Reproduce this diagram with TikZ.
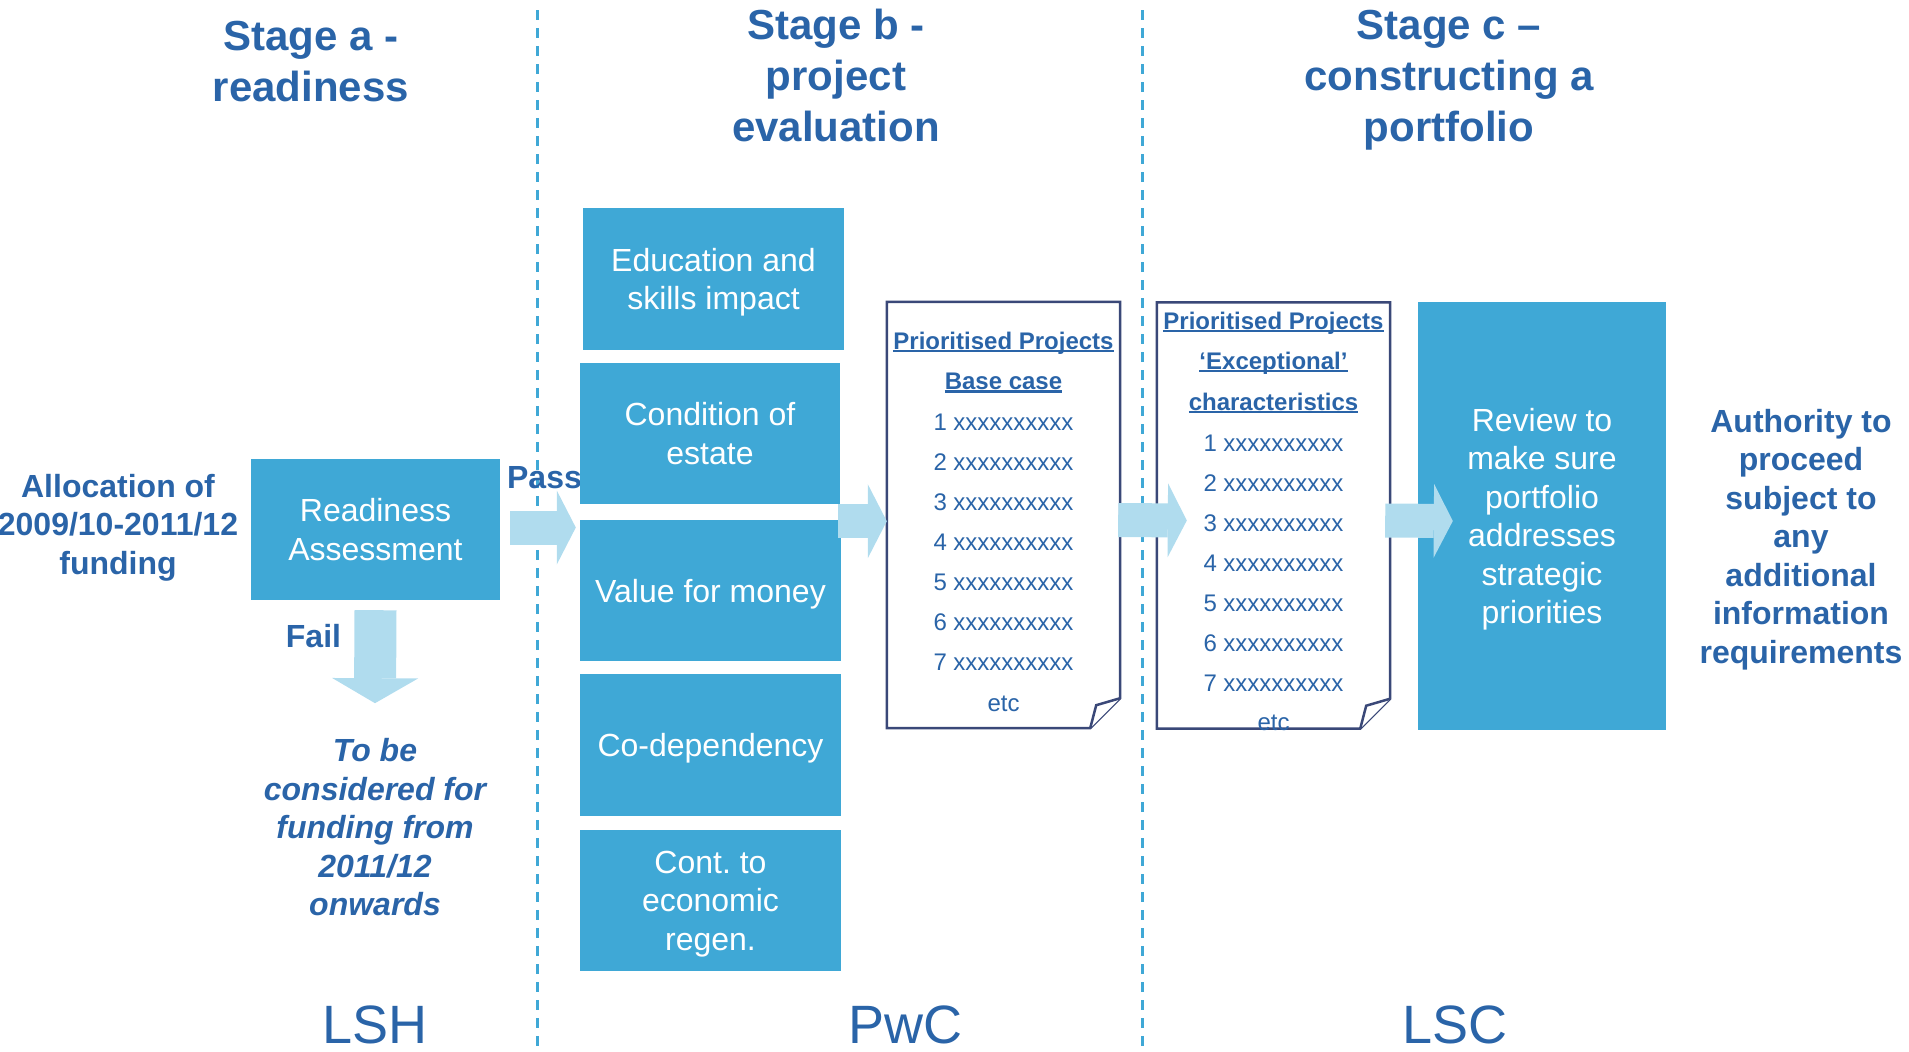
\documentclass[tikz,border=0pt]{standalone}
\usepackage{fontspec}
\setmainfont{Liberation Sans}
\usetikzlibrary{arrows.meta}
\definecolor{boxblue}{RGB}{63,168,214}
\definecolor{arrowblue}{RGB}{176,220,238}
\definecolor{textblue}{RGB}{42,100,168}
\definecolor{pageline}{RGB}{58,72,120}
\newcommand{\docul}[1]{\setbox0=\hbox{#1}\rlap{\rule[-3pt]{\wd0}{2.5pt}}\box0}
\tikzset {
    stage/.style = {text = textblue, align = center, inner sep = 0pt,
        text depth = 0pt, font = \fontsize{42}{51}\selectfont\bfseries},
    side text/.style = {text = textblue, align = center, inner sep = 0pt,
        text depth = 0pt, font = \fontsize{32}{38.5}\selectfont\bfseries},
    firm/.style = {text = textblue, inner sep = 0pt,
        font = \fontsize{54}{60}\selectfont},
    stage box/.style = {fill = boxblue, text = white, align = center,
        inner sep = 0pt, text depth = 0pt, font = \fontsize{32}{38.5}\selectfont},
    page/.style = {minimum width = 233pt, minimum height = 426pt, inner sep = 0pt},
    page edge/.style = {draw = pageline, line width = 2.5pt, fill = white},
    page text/.style = {text = textblue, inner sep = 0pt,
        font = \fontsize{24}{28}\selectfont},
    page head/.style = {text = textblue, inner sep = 0pt,
        font = \fontsize{24}{28}\selectfont\bfseries},
    divider/.style = {draw = boxblue, line width = 3pt,
        dash pattern = on 10pt off 8pt},
    flow/.style = {draw = arrowblue, line width = 34pt,
        -{Triangle[length = 19pt, width = 74pt, line width = 0pt]}},
    fall/.style = {draw = arrowblue, line width = 42pt,
        -{Triangle[length = 25pt, width = 86pt, line width = 0pt]}}
}
\begin{document}
\begin{tikzpicture}[x = 1pt, y = -1pt]
    \useasboundingbox (0, 0) rectangle (1909, 1052);
    % stage borders
    \draw [divider] (537, 10) -- (537, 1050);
    \draw [divider] (1142, 10) -- (1142, 1050);
    % headings
    \node (stagea) [stage] at (311, 61) {Stage a -\\readiness};
    \node (stageb) [stage] at (836, 75) {Stage b -\\project\\evaluation};
    \node (stagec) [stage] at (1449, 76) {Stage c –\\constructing a\\portfolio};
    % stage a
    \node (alloc) [side text] at (118, 524) {Allocation of\\2009/10-2011/12\\funding};
    \node (ready) [stage box, minimum width = 249pt, minimum height = 141pt]
        at (375.5, 529.5) {Readiness\\Assessment};
    \node (pass) [side text] at (544.5, 477) {Pass};
    \node (fail) [side text] at (313.5, 636) {Fail};
    \node (later) [side text, font = \fontsize{32}{38.5}\selectfont\bfseries\itshape]
        at (375, 827) {To be\\considered for\\funding from\\2011/12\\onwards};
    % stage b
    \node (edu) [stage box, minimum width = 261pt, minimum height = 142pt]
        at (713.5, 279) {Education and\\skills impact};
    \node (cond) [stage box, minimum width = 260pt, minimum height = 141pt]
        at (710, 433.5) {Condition of\\estate};
    \node (value) [stage box, minimum width = 261pt, minimum height = 141pt]
        at (710.5, 590.5) {Value for money};
    \node (codep) [stage box, minimum width = 261pt, minimum height = 142pt]
        at (710.5, 745) {Co-dependency};
    \node (econ) [stage box, minimum width = 261pt, minimum height = 141pt]
        at (710.5, 900.5) {Cont.\ to\\economic\\regen.};
    \node (doca) [page] at (1003.5, 515) {};
    \node (docb) [page] at (1273.5, 515.5) {};
    \foreach \pg in {doca, docb} {
        \draw [page edge] (\pg.north west) -- (\pg.north east)
            -- ([yshift = 30pt]\pg.south east) -- ([xshift = -30pt]\pg.south east)
            -- (\pg.south west) -- cycle;
        \draw [page edge] ([yshift = 30pt]\pg.south east)
            -- ([xshift = -24pt, yshift = 23pt]\pg.south east)
            -- ([xshift = -30pt]\pg.south east);
    }
    \node (heada) [page head] at (1003.5, 343) {\docul{Prioritised Projects}};
    \node (basea) [page head] at (1003.5, 383) {\docul{Base case}};
    \foreach \i in {1,...,7}
        \node (itema\i) [page text] at (1003.5, 382 + 40*\i) {\i\ xxxxxxxxxx};
    \node (etca) [page text] at (1003.5, 704) {etc};
    % stage c
    \node (headb) [page head] at (1273.5, 323) {\docul{Prioritised Projects}};
    \node (excb) [page head] at (1273.5, 363) {\docul{‘Exceptional’}};
    \node (charb) [page head] at (1273.5, 403) {\docul{characteristics}};
    \foreach \i in {1,...,7}
        \node (itemb\i) [page text] at (1273.5, 403 + 40*\i) {\i\ xxxxxxxxxx};
    \node (etcb) [page text] at (1273.5, 723) {etc};
    \node (review) [stage box, minimum width = 248pt, minimum height = 428pt]
        at (1542, 516) {Review to\\make sure\\portfolio\\addresses\\strategic\\priorities};
    \node (auth) [side text] at (1801, 536)
        {Authority to\\proceed\\subject to\\any\\additional\\information\\requirements};
    % who does it
    \node (lsh) [firm] at (375, 1025) {LSH};
    \node (pwc) [firm] at (905, 1025) {PwC};
    \node (lsc) [firm] at (1455, 1025) {LSC};
    % arrows
    \draw [flow] ([xshift = 10pt, yshift = 2pt]ready.east)
        -- ([xshift = -4pt, yshift = 2pt]ready.east -| value.west);
    \draw [fall] ([yshift = -10pt]ready.south) -- ([yshift = 35pt]later.north);
    \draw [flow] ([xshift = -2pt, yshift = -17pt]cond.south east)
        -- ([yshift = -17pt]cond.south east -| doca.west);
    \draw [flow] ([xshift = -2pt, yshift = -5pt]doca.east)
        -- ([xshift = 30pt, yshift = -5pt]docb.west);
    \draw [flow] ([xshift = -5pt, yshift = -5pt]docb.east)
        -- ([xshift = 35pt, yshift = -5pt]review.west);
\end{tikzpicture}
\end{document}
